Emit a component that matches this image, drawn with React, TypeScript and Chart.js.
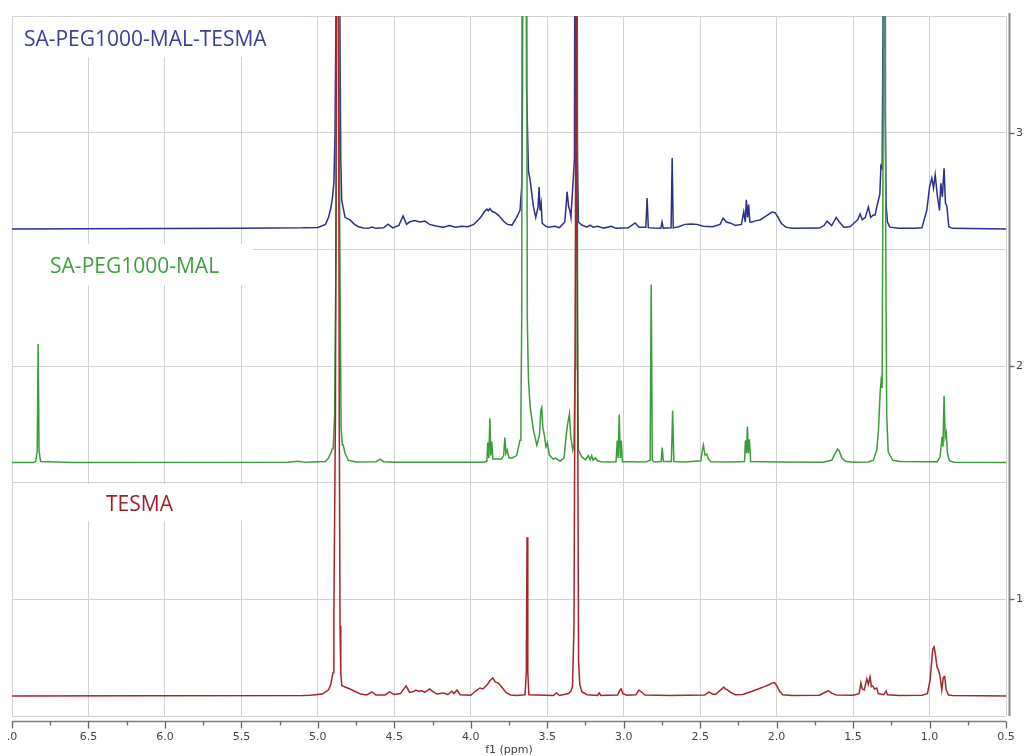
import React, { useEffect, useRef } from 'react';
import { Chart, registerables } from 'chart.js';

Chart.register(...registerables);

// ---------- axis ticks ----------
const xTickValues = [7.0, 6.5, 6.0, 5.5, 5.0, 4.5, 4.0, 3.5, 3.0, 2.5, 2.0, 1.5, 1.0, 0.5];
const xTickLabels = ['.0', '6.5', '6.0', '5.5', '5.0', '4.5', '4.0', '3.5', '3.0', '2.5', '2.0', '1.5', '1.0', '0.5'];
const yTickValues = [1, 2, 3];
const yTickLabels = ['1', '2', '3'];
const xAxisTitle = 'f1 (ppm)';

// ---------- series ----------
const seriesNames = ['TESMA', 'SA-PEG1000-MAL', 'SA-PEG1000-MAL-TESMA'];
const seriesOffsets = [0.586, 1.586, 2.587];
const seriesColors = ['#a3262c', '#3a9d3a', '#2b2f8f'];
const labelColors = ['#9b2226', '#3e9f3e', '#3b3e96'];

// [ppm, intensity above the trace's own baseline]
const tesmaPoints: [number, number][] = [
  [7.0, 0], [5.1, 0.002], [5.05, 0.003], [4.97, 0.008], [4.93, 0.026], [4.915, 0.05], [4.907, 0.08], [4.9, 0.1],
  [4.895, 0.36], [4.885, 1.2], [4.87, 5.0], [4.86, 1.2], [4.855, 0.3], [4.85, 0.1], [4.844, 0.045], [4.822, 0.038],
  [4.79, 0.03], [4.76, 0.02], [4.72, 0.008], [4.68, 0.004], [4.646, 0.017], [4.62, 0.004], [4.56, 0.004], [4.53, 0.017],
  [4.5, 0.006], [4.46, 0.01], [4.423, 0.043], [4.4, 0.015], [4.37, 0.02], [4.36, 0.025], [4.34, 0.02], [4.32, 0.022],
  [4.3, 0.015], [4.27, 0.03], [4.25, 0.02], [4.22, 0.008], [4.18, 0.013], [4.15, 0.006], [4.125, 0.02], [4.11, 0.01],
  [4.09, 0.025], [4.07, 0.005], [4.0, 0.003], [3.97, 0.02], [3.94, 0.034], [3.92, 0.03], [3.89, 0.05], [3.875, 0.065],
  [3.856, 0.077], [3.84, 0.06], [3.82, 0.055], [3.8, 0.04], [3.77, 0.015], [3.74, 0.004], [3.7, 0.002], [3.645, 0.005],
  [3.637, 0.1], [3.632, 0.68], [3.627, 0.1], [3.62, 0.005], [3.46, 0.002], [3.44, 0.013], [3.42, 0.002], [3.36, 0.01],
  [3.346, 0.02], [3.335, 0.04], [3.325, 0.3], [3.315, 2.0], [3.31, 5.0], [3.305, 2.0], [3.295, 0.15], [3.287, 0.05],
  [3.274, 0.018], [3.24, 0.005], [3.17, 0.002], [3.16, 0.013], [3.15, 0.002], [3.04, 0.004], [3.025, 0.025], [3.017, 0.03],
  [3.005, 0.01], [2.98, 0.003], [2.92, 0.005], [2.9, 0.025], [2.89, 0.02], [2.86, 0.004], [2.7, 0.002], [2.47, 0.004],
  [2.442, 0.017], [2.42, 0.008], [2.4, 0.006], [2.345, 0.038], [2.335, 0.03], [2.32, 0.025], [2.3, 0.015], [2.27, 0.005],
  [2.22, 0.006], [2.16, 0.02], [2.12, 0.03], [2.08, 0.04], [2.05, 0.048], [2.03, 0.055], [2.014, 0.057], [2.0, 0.045],
  [1.98, 0.02], [1.96, 0.005], [1.9, 0.002], [1.72, 0.003], [1.67, 0.02], [1.66, 0.022], [1.64, 0.012], [1.61, 0.004],
  [1.5, 0.003], [1.46, 0.01], [1.449, 0.056], [1.44, 0.03], [1.427, 0.026], [1.41, 0.073], [1.4, 0.05], [1.389, 0.081],
  [1.38, 0.04], [1.371, 0.043], [1.36, 0.03], [1.345, 0.034], [1.335, 0.01], [1.3, 0.005], [1.284, 0.021], [1.275, 0.005],
  [1.2, 0.002], [1.05, 0.003], [1.014, 0.01], [0.996, 0.069], [0.979, 0.2], [0.97, 0.21], [0.961, 0.176], [0.952, 0.126],
  [0.941, 0.11], [0.931, 0.083], [0.92, 0.026], [0.91, 0.079], [0.901, 0.083], [0.891, 0.026], [0.876, 0.004], [0.85, 0.002],
  [0.5, 0],
];

const pegMalPoints: [number, number][] = [
  [7.0, 0], [6.86, 0], [6.845, 0.005], [6.835, 0.05], [6.829, 0.508], [6.823, 0.05], [6.813, 0.005], [6.6, 0],
  [5.2, 0.001], [5.13, 0.006], [5.08, 0.001], [4.95, 0.005], [4.93, 0.02], [4.912, 0.045], [4.907, 0.057], [4.9, 0.06],
  [4.89, 0.2], [4.88, 1.0], [4.868, 5.0], [4.857, 1.0], [4.848, 0.15], [4.84, 0.075], [4.834, 0.075], [4.822, 0.04],
  [4.8, 0.01], [4.75, 0.003], [4.62, 0.004], [4.593, 0.015], [4.57, 0.004], [4.5, 0.001], [3.92, 0.002], [3.895, 0.005],
  [3.889, 0.086], [3.882, 0.02], [3.875, 0.19], [3.869, 0.03], [3.863, 0.09], [3.855, 0.015], [3.8, 0.015], [3.785, 0.03],
  [3.777, 0.107], [3.77, 0.04], [3.762, 0.054], [3.75, 0.02], [3.73, 0.02], [3.7, 0.03], [3.678, 0.096], [3.672, 0.2],
  [3.667, 0.6], [3.663, 2.5], [3.655, 8.0], [3.645, 8.0], [3.636, 2.5], [3.63, 0.6], [3.623, 0.36], [3.612, 0.24],
  [3.59, 0.138], [3.568, 0.075], [3.551, 0.117], [3.542, 0.225], [3.536, 0.237], [3.529, 0.153], [3.519, 0.117], [3.508, 0.068],
  [3.499, 0.084], [3.486, 0.032], [3.46, 0.014], [3.449, 0.02], [3.416, 0.006], [3.39, 0.02], [3.377, 0.11], [3.366, 0.168],
  [3.355, 0.208], [3.346, 0.11], [3.333, 0.054], [3.325, 0.08], [3.318, 0.4], [3.314, 2.0], [3.31, 5.0], [3.306, 2.0],
  [3.3, 0.3], [3.296, 0.054], [3.274, 0.025], [3.25, 0.012], [3.231, 0.03], [3.22, 0.012], [3.209, 0.03], [3.2, 0.01],
  [3.187, 0.02], [3.17, 0.008], [3.15, 0.004], [3.1, 0.003], [3.05, 0.004], [3.042, 0.094], [3.036, 0.02], [3.029, 0.206],
  [3.022, 0.02], [3.016, 0.094], [3.008, 0.004], [2.95, 0.004], [2.9, 0.003], [2.85, 0.004], [2.827, 0.01], [2.82, 0.763],
  [2.813, 0.01], [2.8, 0.003], [2.755, 0.005], [2.748, 0.064], [2.741, 0.005], [2.688, 0.005], [2.68, 0.223], [2.672, 0.005],
  [2.6, 0.003], [2.495, 0.008], [2.489, 0.04], [2.479, 0.075], [2.468, 0.032], [2.457, 0.036], [2.446, 0.015], [2.43, 0.004],
  [2.3, 0.003], [2.21, 0.005], [2.204, 0.095], [2.197, 0.04], [2.191, 0.155], [2.185, 0.04], [2.178, 0.1], [2.17, 0.005],
  [2.0, 0.003], [1.7, 0.002], [1.64, 0.01], [1.62, 0.035], [1.602, 0.058], [1.59, 0.05], [1.574, 0.02], [1.55, 0.006],
  [1.5, 0.002], [1.4, 0.003], [1.367, 0.01], [1.345, 0.054], [1.334, 0.139], [1.323, 0.3], [1.317, 0.35], [1.31, 0.32],
  [1.303, 1.5], [1.295, 6.0], [1.287, 1.0], [1.28, 0.2], [1.27, 0.045], [1.24, 0.01], [1.19, 0.005], [1.0, 0.004],
  [0.95, 0.004], [0.931, 0.025], [0.918, 0.11], [0.912, 0.068], [0.905, 0.286], [0.898, 0.11], [0.891, 0.13], [0.883, 0.04],
  [0.87, 0.008], [0.84, 0.002], [0.5, 0],
];

const pegMalTesmaPoints: [number, number][] = [
  [7.0, 0], [6.0, 0.002], [5.5, 0.003], [5.1, 0.005], [5.0, 0.007], [4.95, 0.02], [4.93, 0.05], [4.915, 0.09],
  [4.905, 0.13], [4.895, 0.2], [4.888, 0.4], [4.881, 0.95], [4.868, 4.0], [4.857, 1.0], [4.85, 0.3], [4.844, 0.124],
  [4.822, 0.05], [4.79, 0.039], [4.76, 0.02], [4.735, 0.01], [4.7, 0.004], [4.67, 0.003], [4.646, 0.009], [4.62, 0.003],
  [4.57, 0.005], [4.541, 0.021], [4.51, 0.005], [4.47, 0.015], [4.443, 0.056], [4.42, 0.02], [4.4, 0.03], [4.37, 0.036],
  [4.33, 0.03], [4.3, 0.034], [4.27, 0.02], [4.22, 0.012], [4.18, 0.008], [4.14, 0.015], [4.1, 0.008], [4.06, 0.012],
  [4.02, 0.01], [3.98, 0.02], [3.95, 0.04], [3.93, 0.055], [3.91, 0.075], [3.895, 0.085], [3.885, 0.078], [3.875, 0.088],
  [3.86, 0.075], [3.84, 0.07], [3.82, 0.06], [3.8, 0.045], [3.78, 0.03], [3.76, 0.02], [3.73, 0.017], [3.7, 0.05],
  [3.678, 0.08], [3.667, 0.18], [3.662, 0.6], [3.655, 4.0], [3.645, 4.0], [3.635, 0.6], [3.623, 0.25], [3.612, 0.21],
  [3.59, 0.095], [3.575, 0.05], [3.56, 0.095], [3.553, 0.18], [3.547, 0.08], [3.54, 0.11], [3.533, 0.025], [3.51, 0.012],
  [3.49, 0.008], [3.45, 0.012], [3.42, 0.006], [3.385, 0.03], [3.377, 0.095], [3.37, 0.16], [3.36, 0.095], [3.352, 0.08],
  [3.345, 0.05], [3.322, 0.3], [3.312, 4.0], [3.302, 0.3], [3.296, 0.03], [3.274, 0.017], [3.24, 0.008], [3.22, 0.017],
  [3.2, 0.008], [3.17, 0.012], [3.13, 0.004], [3.08, 0.012], [3.05, 0.003], [2.97, 0.005], [2.925, 0.026], [2.9, 0.008],
  [2.855, 0.008], [2.847, 0.133], [2.839, 0.006], [2.8, 0.004], [2.757, 0.003], [2.749, 0.03], [2.741, 0.003], [2.69, 0.005],
  [2.683, 0.304], [2.676, 0.005], [2.64, 0.01], [2.6, 0.02], [2.56, 0.022], [2.52, 0.02], [2.48, 0.012], [2.42, 0.01],
  [2.37, 0.02], [2.35, 0.047], [2.33, 0.03], [2.3, 0.025], [2.27, 0.015], [2.23, 0.02], [2.215, 0.074], [2.205, 0.03],
  [2.198, 0.125], [2.19, 0.05], [2.183, 0.105], [2.175, 0.03], [2.16, 0.03], [2.14, 0.035], [2.108, 0.039], [2.06, 0.06],
  [2.03, 0.073], [2.01, 0.07], [1.99, 0.05], [1.97, 0.025], [1.94, 0.008], [1.9, 0.003], [1.72, 0.004], [1.69, 0.015],
  [1.67, 0.034], [1.64, 0.015], [1.61, 0.05], [1.59, 0.03], [1.56, 0.008], [1.52, 0.01], [1.47, 0.04], [1.454, 0.064],
  [1.44, 0.04], [1.42, 0.05], [1.4, 0.094], [1.385, 0.05], [1.367, 0.06], [1.356, 0.06], [1.345, 0.094], [1.325, 0.15],
  [1.318, 0.27], [1.31, 0.26], [1.303, 1.0], [1.297, 4.0], [1.29, 0.5], [1.284, 0.1], [1.275, 0.03], [1.26, 0.008],
  [1.2, 0.003], [1.1, 0.003], [1.05, 0.005], [1.018, 0.08], [1.0, 0.18], [0.985, 0.218], [0.974, 0.175], [0.963, 0.232],
  [0.948, 0.138], [0.935, 0.08], [0.926, 0.196], [0.916, 0.138], [0.905, 0.26], [0.896, 0.11], [0.887, 0.1], [0.874, 0.01],
  [0.85, 0.003], [0.5, 0],
];

const seriesPoints = [tesmaPoints, pegMalPoints, pegMalTesmaPoints];

// label placement in data units: text anchor (ppm, y) and white box [ppmLeft, ppmRight, yTop, yBottom]
const labelAnchorPpm = [6.385, 6.751, 6.922];
const labelAnchorY = [1.38, 2.397, 3.371];
const labelBoxes: [number, number, number, number][] = [
  [6.993, 5.25, 1.495, 1.336],
  [6.993, 5.424, 2.523, 2.347],
  [6.993, 5.115, 3.496, 3.324],
];

const labelPlugin = {
  id: 'nmrLabels',
  beforeDatasetsDraw(chart: any) {
    const { ctx, scales } = chart;
    const xs = scales.x, ys = scales.y;
    ctx.save();
    ctx.fillStyle = '#ffffff';
    labelBoxes.forEach(([l, r, t, b]) => {
      const x1 = xs.getPixelForValue(l), x2 = xs.getPixelForValue(r);
      const y1 = ys.getPixelForValue(t), y2 = ys.getPixelForValue(b);
      ctx.fillRect(x1, y1, x2 - x1, y2 - y1);
    });
    ctx.restore();
  },
  afterDatasetsDraw(chart: any) {
    const { ctx, scales } = chart;
    const xs = scales.x, ys = scales.y;
    ctx.save();
    ctx.font = '21px "Open Sans"';
    ctx.textAlign = 'left';
    ctx.textBaseline = 'alphabetic';
    seriesNames.forEach((name, i) => {
      ctx.fillStyle = labelColors[i];
      ctx.fillText(name, xs.getPixelForValue(labelAnchorPpm[i]), ys.getPixelForValue(labelAnchorY[i]));
    });
    ctx.restore();
  },
  afterDraw(chart: any) {
    const { ctx, chartArea, scales } = chart;
    const xs = scales.x, ys = scales.y;
    ctx.save();
    // bottom axis
    const axisY = Math.round(chartArea.bottom + 5) + 0.5;
    ctx.strokeStyle = '#7d7d7d';
    ctx.lineWidth = 1.5;
    ctx.beginPath();
    ctx.moveTo(chartArea.left, axisY);
    ctx.lineTo(chartArea.right, axisY);
    ctx.stroke();
    ctx.strokeStyle = '#666666';
    ctx.lineWidth = 1.3;
    xTickValues.forEach((v, i) => {
      const px = Math.round(xs.getPixelForValue(v)) + 0.5;
      ctx.beginPath();
      ctx.moveTo(px, axisY);
      ctx.lineTo(px, axisY + 7);
      ctx.stroke();
      if (i < xTickValues.length - 1) {
        const mx = Math.round(xs.getPixelForValue(v - 0.25)) + 0.5;
        ctx.beginPath();
        ctx.moveTo(mx, axisY);
        ctx.lineTo(mx, axisY + 4);
        ctx.stroke();
      }
    });
    // right axis
    const axisX = Math.round(chartArea.right + 3) + 0.5;
    ctx.strokeStyle = '#8a8a8a';
    ctx.lineWidth = 2;
    ctx.beginPath();
    ctx.moveTo(axisX, chartArea.top - 3);
    ctx.lineTo(axisX, chartArea.bottom);
    ctx.stroke();
    ctx.strokeStyle = '#666666';
    ctx.lineWidth = 1.3;
    yTickValues.forEach((v) => {
      const py = Math.round(ys.getPixelForValue(v)) + 0.5;
      ctx.beginPath();
      ctx.moveTo(axisX, py);
      ctx.lineTo(axisX + 5, py);
      ctx.stroke();
    });
    ctx.restore();
  },
};

export default function App() {
  const canvasRef = useRef<HTMLCanvasElement | null>(null);

  useEffect(() => {
    if (!canvasRef.current) return;
    const datasets = seriesPoints.map((pts, i) => ({
      label: seriesNames[i],
      data: pts.map(([p, h]) => ({ x: p, y: seriesOffsets[i] + h })),
      borderColor: seriesColors[i],
      backgroundColor: seriesColors[i],
      borderWidth: 1.5,
      pointRadius: 0,
      pointHoverRadius: 0,
      tension: 0,
      fill: false,
    }));

    const chart = new Chart(canvasRef.current, {
      type: 'line',
      data: { datasets },
      options: {
        animation: false,
        responsive: false,
        devicePixelRatio: 1,
        events: [],
        layout: { padding: { left: 12, top: 16, right: 0, bottom: 0 } },
        plugins: {
          legend: { display: false },
          tooltip: { enabled: false },
        },
        scales: {
          x: {
            type: 'linear',
            position: 'bottom',
            reverse: true,
            min: 0.5,
            max: 7.0,
            border: { display: false },
            grid: { color: '#d2d2d2', lineWidth: 1, drawTicks: false },
            ticks: {
              stepSize: 0.5,
              padding: 15,
              color: '#444444',
              font: { family: '"DejaVu Sans"', size: 11 },
              maxRotation: 0,
              autoSkip: false,
              callback: (value: any) => {
                const idx = xTickValues.findIndex((t) => Math.abs(t - Number(value)) < 1e-6);
                return idx >= 0 ? xTickLabels[idx] : '';
              },
            },
            title: {
              display: true,
              text: xAxisTitle,
              color: '#444444',
              font: { family: '"DejaVu Sans"', size: 11 },
              padding: { top: 0, bottom: -1 },
            },
            afterFit: (scale: any) => {
              scale.height = 40;
              scale.paddingLeft = 0;
              scale.paddingRight = 0;
            },
          },
          y: {
            type: 'linear',
            position: 'right',
            min: 0.5,
            max: 3.5,
            border: { display: false },
            grid: { color: '#d2d2d2', lineWidth: 1, drawTicks: false },
            ticks: {
              stepSize: 0.5,
              padding: 10,
              color: '#444444',
              font: { family: '"DejaVu Sans"', size: 11 },
              callback: (value: any) => {
                const idx = yTickValues.findIndex((t) => Math.abs(t - Number(value)) < 1e-6);
                return idx >= 0 ? yTickLabels[idx] : '';
              },
            },
            afterFit: (scale: any) => {
              scale.width = 19;
              scale.paddingTop = 0;
              scale.paddingBottom = 0;
            },
          },
        },
      },
      plugins: [labelPlugin],
    });
    return () => chart.destroy();
  }, []);

  return (
    <div style={{ position: 'fixed', left: 0, top: 0, width: 1025, height: 756, background: '#ffffff' }}>
      <canvas ref={canvasRef} width={1025} height={756} style={{ width: 1025, height: 756, display: 'block' }} />
    </div>
  );
}
